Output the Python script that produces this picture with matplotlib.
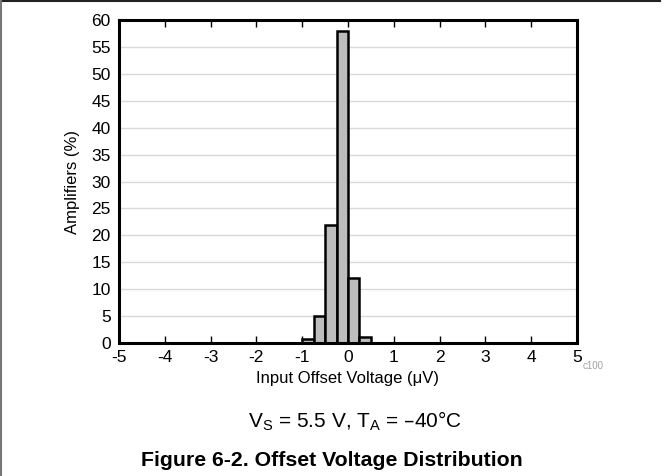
import matplotlib

matplotlib.use('Agg')
import matplotlib.pyplot as plt
from matplotlib.lines import Line2D

plt.rcParams['font.family'] = ['Liberation Sans', 'DejaVu Sans']

# Histogram bins (uV) and percentages
bin_left = [-1.0, -0.75, -0.5, -0.25, 0.0, 0.25]
bin_width = 0.25
percent = [0.8, 5, 22, 58, 12, 1.2]

x_ticks = [-5, -4, -3, -2, -1, 0, 1, 2, 3, 4, 5]
y_ticks = list(range(0, 61, 5))

fig = plt.figure(figsize=(6.64, 4.76), dpi=100)
ax = fig.add_axes([119 / 664, 1 - 343 / 476, 458 / 664, 323 / 476])

ax.bar(bin_left, percent, width=bin_width, align='edge',
       color='#bdbdbd', edgecolor='black', linewidth=1.8, zorder=3)

ax.set_xlim(-5, 5)
ax.set_ylim(0, 60)
ax.set_xticks(x_ticks)
ax.set_xticklabels([str(t) for t in x_ticks])
ax.set_yticks(y_ticks)
ax.grid(axis='y', color='#d9d9d9', linewidth=1, zorder=0)
ax.tick_params(axis='x', direction='in', top=True, length=5, width=1,
               labelsize=12.5, pad=5)
ax.tick_params(axis='y', length=0, labelsize=12.5, pad=6)
for s in ax.spines.values():
    s.set_linewidth(2.2)
    s.set_zorder(4)

ax.set_xlabel('Input Offset Voltage (\u03bcV)', fontsize=12, labelpad=4)
ax.set_ylabel('Amplifiers (%)', fontsize=12, labelpad=8)

fig.text(583 / 664, 1 - 366 / 476, 'c100', fontsize=7, color='#a0a0a0',
         ha='left', va='center')
fig.text(355 / 664, 1 - 421 / 476,
         'V$_\\mathregular{S}$ = 5.5 V, T$_\\mathregular{A}$ = \u201340\u00b0C',
         fontsize=15, ha='center', va='center')
fig.text(332 / 664, 1 - 460 / 476, 'Figure 6-2. Offset Voltage Distribution',
         fontsize=15.3, fontweight='bold', ha='center', va='center')

# frame lines around the figure (top and left only)
fig.add_artist(Line2D([0, 660 / 664], [0.998, 0.998], color='#222222',
                      linewidth=1.5, transform=fig.transFigure))
fig.add_artist(Line2D([0.002, 0.002], [0, 1], color='#777777',
                      linewidth=1.5, transform=fig.transFigure))

fig.savefig('out.png', dpi=100, facecolor='w')
plt.close(fig)
